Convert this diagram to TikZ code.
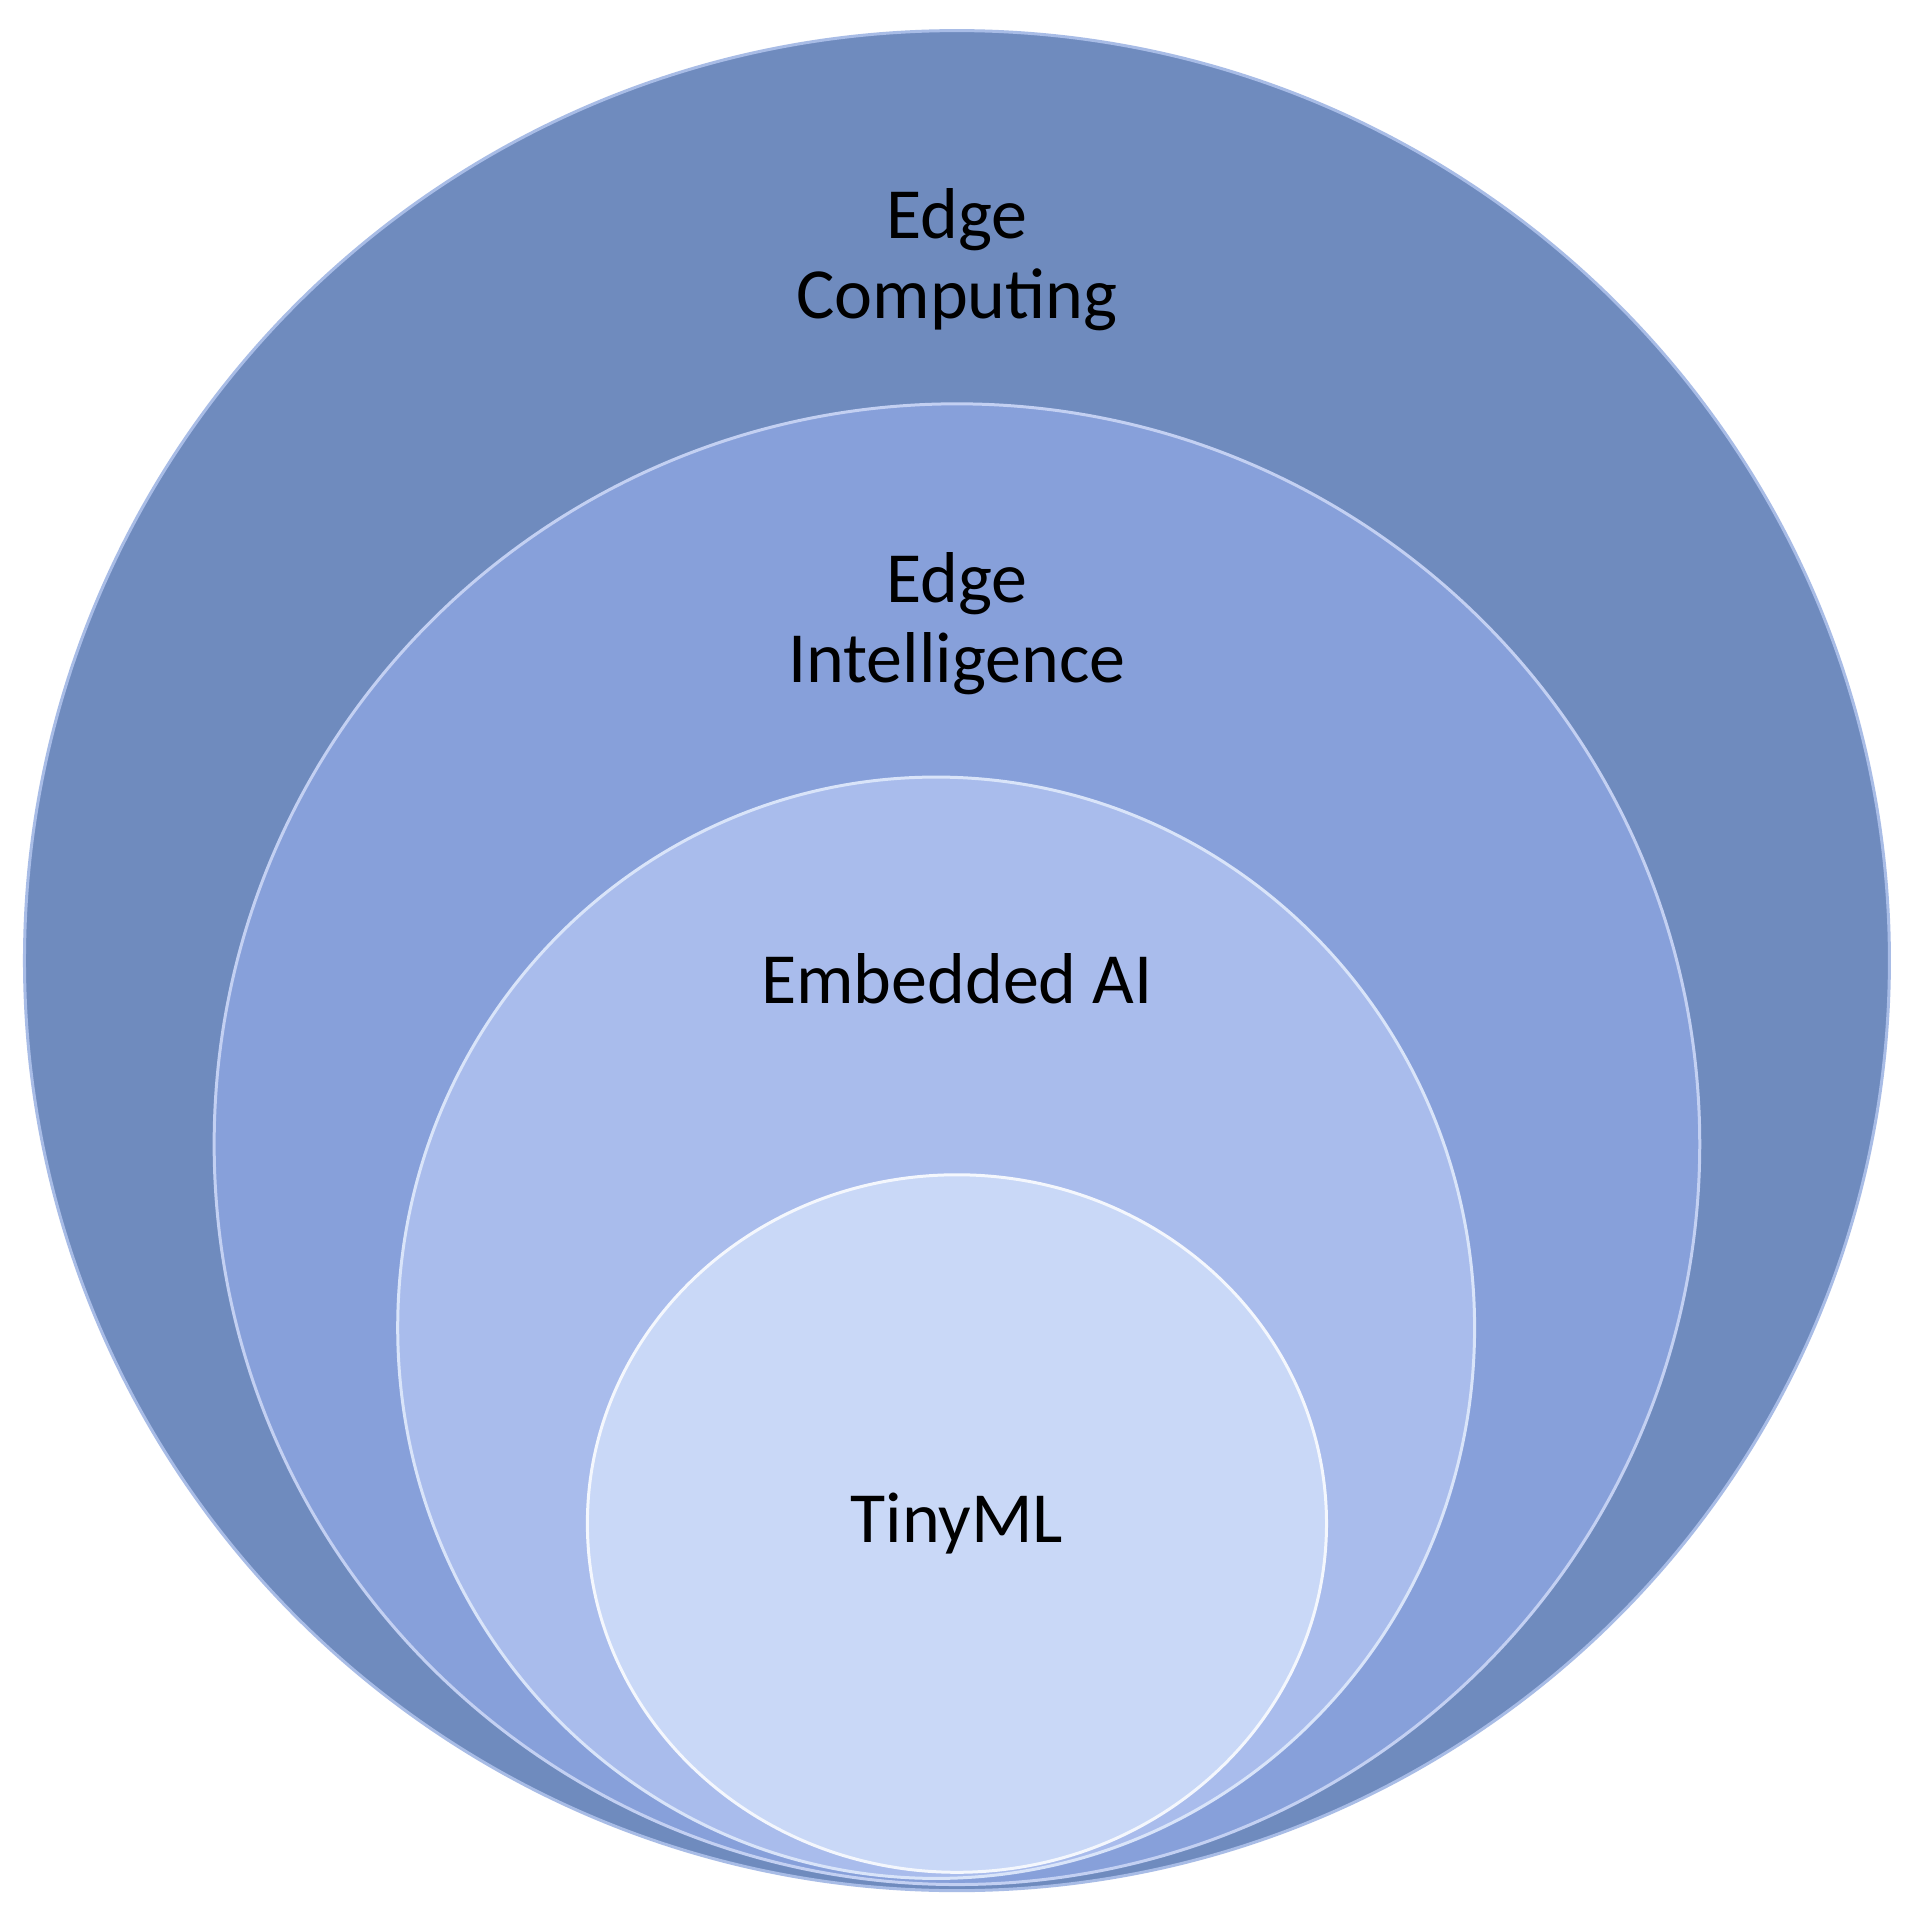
\documentclass[tikz,border=0pt]{standalone}
\usepackage{fontspec}
\setmainfont{Carlito}
\definecolor{c1}{HTML}{6F8BBE}
\definecolor{c2}{HTML}{87A0DA}
\definecolor{c3}{HTML}{A9BCEC}
\definecolor{c4}{HTML}{C9D8F7}
\definecolor{rim}{HTML}{A8BCE6}
\tikzset{ring/.style={line width=3pt}, lab/.style={font=\fontsize{72}{80}\selectfont, align=center, text=black}}
\begin{document}
\begin{tikzpicture}[x=1.2237pt,y=-1.2237pt]
\useasboundingbox (0,0) rectangle (1560,1557);
\fill[white] (0,0) rectangle (1560,1557);
\draw[ring, fill=c1, draw=rim] (782,785) ellipse [x radius=762, y radius=760];
\draw[ring, fill=c2, draw=c3!70!white] (782,935) ellipse [x radius=607, y radius=605];
\draw[ring, fill=c3, draw=c4!70!white] (765,1085) ellipse [x radius=440, y radius=450];
\draw[ring, fill=c4, draw=white!80!c4] (782,1245) ellipse [x radius=302, y radius=285];
\node[lab] (ec) at (782,212) {Edge\\Computing};
\node[lab] (ei) at (782,510) {Edge\\Intelligence};
\node[lab] (ea) at (782,800) {Embedded AI};
\node[lab] (tm) at (782,1245) {TinyML};
\end{tikzpicture}
\end{document}
